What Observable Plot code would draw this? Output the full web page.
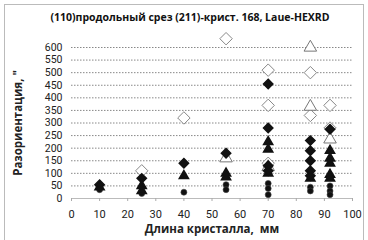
<!DOCTYPE html>
<html><head><meta charset="utf-8">
<script src="https://cdn.jsdelivr.net/npm/d3@7"></script>
<script src="https://cdn.jsdelivr.net/npm/@observablehq/plot@0.6"></script>
<style>
body{margin:0;background:#fff;}
#wrap{position:relative;width:368px;height:240px;overflow:hidden;font-family:"Open Sans",sans-serif;}
#frame{position:absolute;left:4px;top:4px;width:360px;height:240px;border:1px solid #bbb;box-sizing:border-box;}
#title{position:absolute;top:10px;left:0;width:380px;text-align:center;font-weight:bold;font-size:10.5px;color:#111;}
#chart{position:absolute;left:0;top:0;}
</style></head>
<body><div id="wrap"><div id="frame"></div><div id="chart"></div>
<div id="title">(110)продольный срез (211)-крист. 168, Laue-HEXRD</div></div>
<script>
const xTicks = [0,10,20,30,40,50,60,70,80,90,100];
const yTicks = [0,50,100,150,200,250,300,350,400,450,500,550,600];
const xLabel = "Длина кристалла,  мм";
const yLabel = "Разориентация, \"";

const openDiamondX = [25,40,55,70,70,70,85,85,92,92];
const openDiamondY = [110,320,635,510,370,140,500,330,370,280];
const filledDiamondX = [10,25,40,55,70,70,70,70,85,85,85,85,85,92];
const filledDiamondY = [55,80,140,180,455,280,130,110,230,190,150,110,90,275];
const openTriangleX = [55,85,85,92,70];
const openTriangleY = [160,600,365,235,125];
const filledTriangleX = [10,25,25,40,55,55,70,70,70,85,92,92,92,92,92];
const filledTriangleY = [45,50,30,90,100,85,225,195,100,80,190,160,140,95,80];
const filledCircleX = [10,25,40,55,55,70,70,70,85,85,92,92,92];
const filledCircleY = [35,20,25,55,35,60,40,15,45,30,50,30,15];

const pts = (xs, ys) => xs.map((x, i) => ({x, y: ys[i]}));

const plot = Plot.plot({
  width: 368, height: 240,
  marginLeft: 71, marginRight: 16, marginTop: 47, marginBottom: 42,
  x: {domain: [0, 100]},
  y: {domain: [0, 600]},
  style: {fontFamily: "Roboto, sans-serif", fontSize: "11px", color: "#222", background: "transparent"},
  marks: [
    Plot.gridY(yTicks.filter(d => d > 0), {stroke: "#888", strokeOpacity: 1, strokeDasharray: "1.5,1.5"}),
    Plot.ruleY([0], {stroke: "#bbb"}),
    Plot.axisX({ticks: xTicks, tickSize: 3, tickPadding: 9, stroke: "#aaa", fill: "#222",
      label: xLabel, labelAnchor: "center", labelOffset: 34, labelArrow: "none"}),
    Plot.axisY({ticks: yTicks, tickSize: 0, tickPadding: 9, fill: "#222",
      label: yLabel, labelAnchor: "center", labelOffset: 58, labelArrow: "none"}),
    Plot.dot(pts(filledCircleX, filledCircleY), {x: "x", y: "y", r: 3, fill: "#111", stroke: "#444", strokeWidth: 0.6}),
    Plot.dot(pts(openDiamondX, openDiamondY), {x: "x", y: "y", symbol: "diamond2", r: 5.6, fill: "#fff", stroke: "#888", strokeWidth: 1}),
    Plot.dot(pts(openTriangleX, openTriangleY), {x: "x", y: "y", symbol: "triangle2", r: 6, fill: "#fff", stroke: "#777", strokeWidth: 1}),
    Plot.dot(pts(filledTriangleX, filledTriangleY), {x: "x", y: "y", symbol: "triangle2", r: 4.4, fill: "#111", stroke: "#111"}),
    Plot.dot(pts(filledDiamondX, filledDiamondY), {x: "x", y: "y", symbol: "diamond2", r: 4.2, fill: "#111", stroke: "#111"})
  ]
});
plot.querySelectorAll('g[aria-label$="axis label"] text').forEach(t => {
  t.setAttribute("font-weight", "bold");
  t.setAttribute("font-size", "11.5");
  t.setAttribute("font-family", "Open Sans, sans-serif");
  t.textContent = t.textContent.replace(/\s*[→↑←↓]\s*/g, "");
});
plot.querySelectorAll('g[aria-label="y-axis tick label"]').forEach(g => g.setAttribute("font-size", "10.5"));
document.getElementById("chart").appendChild(plot);
</script></body></html>
